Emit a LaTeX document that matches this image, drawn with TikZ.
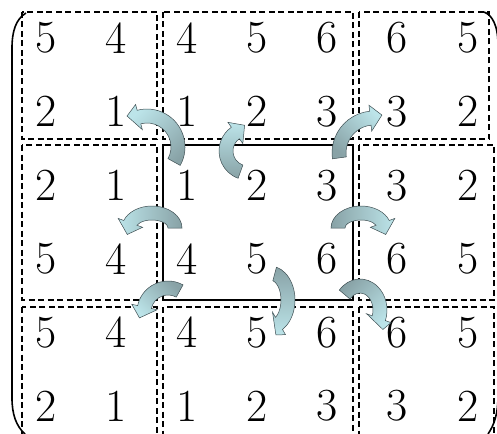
\documentclass[tikz,border=0pt]{standalone}
\usepackage{xcolor}
\definecolor{arrowdark}{RGB}{136,162,166}
\definecolor{arrowlight}{RGB}{188,228,233}
\definecolor{arrowedge}{RGB}{62,78,82}
\usetikzlibrary{calc}
\tikzset{
  digit/.style    ={inner sep=0pt,font=\fontsize{46}{46}\selectfont},
  cell/.style     ={draw=black,line width=1.1pt,dash pattern=on 6pt off 3.5pt},
  frame/.style    ={draw=black,line width=2pt},
  bracket/.style  ={draw=black,line width=1.6pt},
  arrowfill/.style={draw=arrowedge,line width=0.5pt,top color=arrowdark,bottom color=arrowlight},
}
\newcommand\arwhalf{7}
\newcommand\arwhead{13}
\newcommand\arwlen{12}
% #1 centre, #2/#3 x/y radius, #4 tail angle, #5 head angle, #6 head direction, #7 shading angle
\newcommand\bentarrow[7]{%
  \shade[arrowfill,shading angle=#7]
    ($(#1)+(#4:{#2+\arwhalf} and {#3+\arwhalf})$)
    arc[start angle=#4,end angle=#5,x radius={#2+\arwhalf},y radius={#3+\arwhalf}]
    -- ($(#1)+(#5:{#2+\arwhead} and {#3+\arwhead})$)
    -- ($(#1)+(#5:#2 and #3)+(#6:\arwlen)$)
    -- ($(#1)+(#5:{#2-\arwhead} and {#3-\arwhead})$)
    -- ($(#1)+(#5:{#2-\arwhalf} and {#3-\arwhalf})$)
    arc[start angle=#5,end angle=#4,x radius={#2-\arwhalf},y radius={#3-\arwhalf}]
    -- cycle;}

\begin{document}
\begin{tikzpicture}[x=1pt,y=1pt]
  \useasboundingbox (0,0) rectangle (497,-433);
  \clip (0,0) rectangle (497,-433);

  % ---- dashed blocks -----------------------------------------------------
  \draw[cell] (22,-12)   rectangle (157,-139);
  \draw[cell] (163,-12)  rectangle (353,-139);
  \draw[cell] (359,-12)  rectangle (489,-139);
  \draw[cell] (22,-145)  rectangle (157,-300);
  \draw[cell] (359,-145) rectangle (494,-300);
  \draw[cell] (22,-307)  rectangle (157,-440);
  \draw[cell] (163,-307) rectangle (353,-440);
  \draw[cell] (359,-307) rectangle (494,-440);
  \draw[frame] (163,-145) rectangle (353,-300);

  % ---- brackets ----------------------------------------------------------
  \draw[bracket] (26,-13) .. controls (16,-19) and (12,-31) .. (12,-48)
    -- (12,-398) .. controls (12,-414) and (16,-426) .. (25,-434);
  \draw[bracket] (484,-12) .. controls (492,-15) and (498,-25) .. (498,-45)
    -- (498,-395) .. controls (498,-415) and (494,-425) .. (488,-434);

  % ---- entries -----------------------------------------------------------
  \foreach \row [count=\i from 0] in {{5,4,4,5,6,6,5},{2,1,1,2,3,3,2},{2,1,1,2,3,3,2},
                                      {5,4,4,5,6,6,5},{5,4,4,5,6,6,5},{2,1,1,2,3,3,2}}
    \foreach \v [count=\j from 0] in \row
      \node[digit] (d\i\j) at ({46+70.3*\j},{-38-73.6*\i}) {\v};

  % ---- bent arrows -------------------------------------------------------
  \bentarrow{147,-147}{31}{31}{-29}{105}{175}{-135}
  \bentarrow{248,-151}{22}{22}{250}{125}{40}{180}
  \bentarrow{374,-153}{35}{35}{188}{96}{15}{135}
  \bentarrow{152,-228}{23}{15}{0}{160}{255}{-90}
  \bentarrow{361,-228}{23}{15}{180}{20}{-75}{90}
  \bentarrow{168,-312}{24}{24}{61}{168}{245}{-45}
  \bentarrow{270,-300}{18}{27}{75}{-60}{255}{0}
  \bentarrow{360,-310}{20}{24}{140}{-20}{-70}{45}
\end{tikzpicture}
\end{document}
